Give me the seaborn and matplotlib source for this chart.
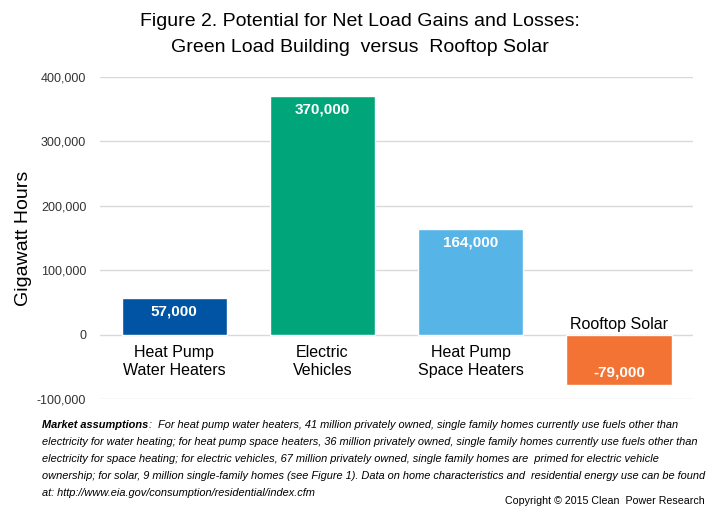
import matplotlib
matplotlib.use("Agg")
import matplotlib.pyplot as plt
import seaborn as sns
import pandas as pd

categories = ["Heat Pump\nWater Heaters", "Electric\nVehicles", "Heat Pump\nSpace Heaters", "Rooftop Solar"]
values = [57000, 370000, 164000, -79000]
value_labels = ["57,000", "370,000", "164,000", "-79,000"]
colors = ["#0154A4", "#00A679", "#56B4E6", "#F37335"]
yticks = [-100000, 0, 100000, 200000, 300000, 400000]
ytick_labels = ["-100,000", "0", "100,000", "200,000", "300,000", "400,000"]

sns.set_theme(style="white")
plt.rcParams['font.family'] = ['Liberation Sans', 'DejaVu Sans']
plt.rcParams['text.color'] = 'black'

df = pd.DataFrame({"cat": categories, "val": values})

fig = plt.figure(figsize=(7.2, 5.22), dpi=100)
ax = fig.add_axes([0.139, 0.2356, 0.8236, 0.6169])
sns.barplot(data=df, x="cat", y="val", hue="cat", palette=colors, width=0.71,
            legend=False, ax=ax, saturation=1)

ax.set_ylim(-100000, 400000)
ax.set_yticks(yticks)
ax.set_yticklabels(ytick_labels, fontsize=9, color="#333333")
ax.tick_params(axis="y", length=0, pad=10)
ax.set_xticks([])
ax.set_xlabel("")
ax.set_ylabel("Gigawatt Hours", fontsize=14, color="black")
ax.yaxis.set_label_coords(-68 / 593, 0.5)
ax.grid(axis="y", color="#D9D9D9", linewidth=1)
ax.set_axisbelow(True)
for s in ax.spines.values():
    s.set_visible(False)

for i, (v, lab) in enumerate(zip(values, value_labels)):
    off = -21000 if v > 0 else 20000
    ax.text(i, v + off, lab, ha="center", va="center", color="white",
            fontsize=11, fontweight="bold")

for i, (c, v) in enumerate(zip(categories, values)):
    if v > 0:
        l1, l2 = c.split("\n")
        ax.text(i, -27000, l1, ha="center", va="center", fontsize=11.5, color="black")
        ax.text(i, -55000, l2, ha="center", va="center", fontsize=11.5, color="black")
    else:
        ax.text(i, 3500, c, ha="center", va="bottom", fontsize=11.5, color="black")

fig.text(0.5, 1 - 22 / 522, "Figure 2. Potential for Net Load Gains and Losses:",
         ha="center", va="center", fontsize=14, color="black")
fig.text(0.5, 1 - 47 / 522, "Green Load Building  versus  Rooftop Solar",
         ha="center", va="center", fontsize=14, color="black")

# footnote
lines = [
    "For heat pump water heaters, 41 million privately owned, single family homes currently use fuels other than",
    "electricity for water heating; for heat pump space heaters, 36 million privately owned, single family homes currently use fuels other than",
    "electricity for space heating; for electric vehicles, 67 million privately owned, single family homes are  primed for electric vehicle",
    "ownership; for solar, 9 million single-family homes (see Figure 1). Data on home characteristics and  residential energy use can be found",
    "at: http://www.eia.gov/consumption/residential/index.cfm",
]
x0 = 42 / 720
fs = 7.95
b = fig.text(x0, 1 - 425 / 522, "Market assumptions", fontsize=fs, fontstyle="italic",
             fontweight="bold", va="center", ha="left", color="black")
fig.canvas.draw()
bb = b.get_window_extent()
x1 = (bb.x1 + 1) / 720
fig.text(x1, 1 - 425 / 522, ":  " + lines[0], fontsize=fs, fontstyle="italic", va="center",
         ha="left", color="black")
for k, ln in enumerate(lines[1:]):
    fig.text(x0, 1 - (425 + 17 * (k + 1)) / 522, ln, fontsize=fs, fontstyle="italic",
             va="center", ha="left", color="black")
fig.text(705 / 720, 1 - 501 / 522, "Copyright \u00a9 2015 Clean  Power Research", fontsize=7.7,
         ha="right", va="center", color="black")

fig.savefig("out.png", dpi=100)
